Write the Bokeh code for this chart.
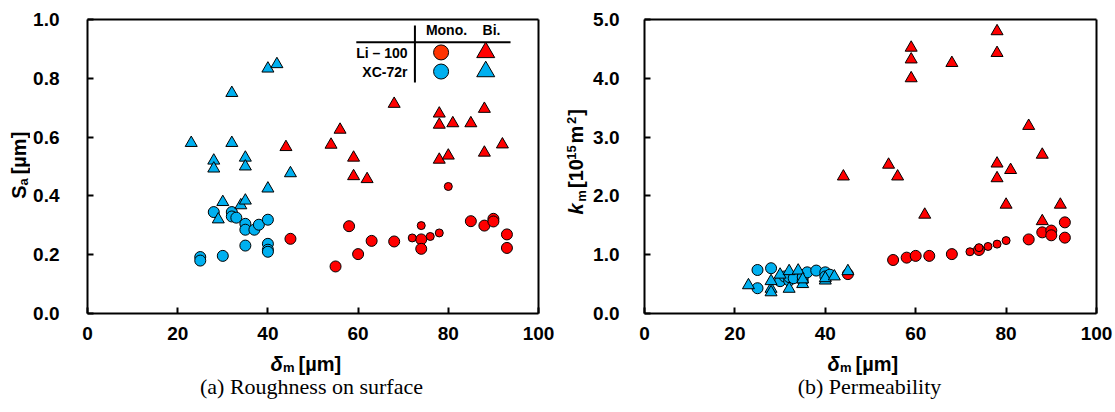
import math
from bokeh.plotting import figure
from bokeh.layouts import row, column
from bokeh.models import Label, FixedTicker, NumeralTickFormatter, Range1d, LinearAxis
from bokeh.embed import file_html
from bokeh.resources import INLINE

# ---------------- data ----------------
x_ticks = [0, 20, 40, 60, 80, 100]
sa_ticks = [0.0, 0.2, 0.4, 0.6, 0.8, 1.0]
km_ticks = [0.0, 1.0, 2.0, 3.0, 4.0, 5.0]
captions = ["(a) Roughness on surface", "(b) Permeability"]
legend_rows = ["Li \u2013 100", "XC-72r"]
legend_cols = ["Mono.", "Bi."]

# (a) roughness Sa [um] vs delta_m [um]
sa_li_mono_x = [45, 55, 58, 60, 63, 68, 74, 74, 85, 88, 90, 90, 93, 93]
sa_li_mono_y = [0.254, 0.160, 0.297, 0.202, 0.247, 0.245, 0.252, 0.220, 0.314, 0.299, 0.322, 0.313, 0.269, 0.223]
sa_li_mono_small_x = [72, 74, 76, 78, 80]
sa_li_mono_small_y = [0.257, 0.299, 0.262, 0.274, 0.432]
sa_li_bi_x = [44, 54, 56, 59, 59, 62, 68, 78, 78, 81, 85, 88, 78, 80, 88, 92]
sa_li_bi_y = [0.566, 0.574, 0.625, 0.530, 0.467, 0.457, 0.713, 0.680, 0.642, 0.647, 0.647, 0.696, 0.523, 0.537, 0.547, 0.575]
sa_xc_mono_x = [25, 25, 30, 28, 32, 32, 33, 35, 35, 37, 38, 40, 35, 40, 40, 40]
sa_xc_mono_y = [0.192, 0.180, 0.196, 0.345, 0.345, 0.330, 0.326, 0.305, 0.285, 0.285, 0.302, 0.319, 0.231, 0.237, 0.217, 0.210]
sa_xc_bi_x = [23, 32, 32, 28, 28, 35, 35, 40, 42, 40, 45, 30, 29, 34, 35]
sa_xc_bi_y = [0.580, 0.750, 0.580, 0.520, 0.493, 0.530, 0.500, 0.833, 0.848, 0.425, 0.477, 0.379, 0.320, 0.368, 0.384]

# (b) permeability km [1e-15 m2] vs delta_m [um]
km_li_mono_x = [45, 55, 58, 60, 63, 68, 74, 85, 88, 90, 90, 93, 93]
km_li_mono_y = [0.67, 0.91, 0.95, 0.98, 0.98, 1.01, 1.08, 1.26, 1.38, 1.41, 1.33, 1.29, 1.55]
km_li_mono_small_x = [72, 74, 76, 78, 80]
km_li_mono_small_y = [1.05, 1.12, 1.14, 1.18, 1.24]
km_li_bi_x = [44, 54, 56, 59, 59, 59, 62, 68, 78, 78, 78, 78, 80, 81, 85, 88, 88, 92]
km_li_bi_y = [2.33, 2.53, 2.33, 4.52, 4.32, 4.00, 1.68, 4.26, 4.80, 4.43, 2.55, 2.30, 1.85, 2.44, 3.19, 2.70, 1.57, 1.85]
km_xc_mono_x = [25, 25, 28, 30, 31, 32, 32, 33, 35, 35, 36, 38, 40, 40, 41]
km_xc_mono_y = [0.74, 0.43, 0.77, 0.55, 0.63, 0.56, 0.62, 0.60, 0.56, 0.62, 0.70, 0.73, 0.70, 0.63, 0.66]
km_xc_bi_x = [23, 28, 28, 28, 30, 32, 32, 34, 35, 35, 40, 40, 42, 45]
km_xc_bi_y = [0.48, 0.42, 0.36, 0.55, 0.66, 0.72, 0.42, 0.73, 0.50, 0.58, 0.56, 0.60, 0.63, 0.72]

# ---------------- style ----------------
RED = "#FF0000"
LEG_RED = "#FF3300"
BLUE = "#00B0F0"
FONT = "Liberation Sans"
SERIF = "Liberation Serif"
ANG = math.pi / 2
MAIN_H = 348
FRAME_TOP = 19
FRAME_H = 294
FRAME_BOTTOM = FRAME_TOP + FRAME_H          # pixel row of the x axis line
STRIP_H = 412 - MAIN_H
YSTRIP_W = 30


def lab(p, text, x, y, size=20, style="bold", angle=0.0, align="left",
        baseline="alphabetic", font=FONT):
    p.add_layout(Label(x=x, y=y, x_units="screen", y_units="screen", text=text,
                       text_font=font, text_font_size=f"{size}px",
                       text_font_style=style, angle=angle, text_align=align,
                       text_baseline=baseline, text_color="black"))


def vlab(p, text, x, row_px, size=20, style="bold"):
    # rotated piece, anchored at its centre; row_px = pixel row from the top
    lab(p, text, x, FRAME_BOTTOM - row_px, size=size, style=style, angle=ANG,
        align="center", baseline="middle")


def strip(width, height):
    s = figure(width=width, height=height, output_backend="svg", toolbar_location=None,
               x_range=Range1d(0, 1), y_range=Range1d(0, 1),
               x_axis_type=None, y_axis_type=None, min_border=0)
    s.grid.visible = False
    s.outline_line_color = None
    s.background_fill_color = "white"
    s.border_fill_color = "white"
    return s


def frame_axis(p, side):
    ax = LinearAxis(ticker=FixedTicker(ticks=[]), axis_line_width=2,
                    axis_line_color="black", major_tick_in=0, major_tick_out=0,
                    minor_tick_in=0, minor_tick_out=0,
                    major_label_text_font_size="0px")
    p.add_layout(ax, side)


def base(width, left, right, ymax, yticks, ystandoff):
    p = figure(width=width, height=MAIN_H, output_backend="svg", toolbar_location=None,
               x_range=Range1d(0, 100), y_range=Range1d(0, ymax),
               min_border_left=left, min_border_right=right,
               min_border_top=FRAME_TOP, min_border_bottom=MAIN_H - FRAME_BOTTOM)
    p.grid.visible = False
    p.outline_line_color = None
    p.background_fill_color = "white"
    p.border_fill_color = "white"
    for ax in (p.xaxis[0], p.yaxis[0]):
        ax.axis_line_width = 2
        ax.axis_line_color = "black"
        ax.major_tick_line_width = 2
        ax.major_tick_in = 6
        ax.major_tick_out = 0
        ax.minor_tick_in = 0
        ax.minor_tick_out = 0
        ax.major_label_text_font = FONT
        ax.major_label_text_font_style = "bold"
        ax.major_label_text_font_size = "19px"
        ax.major_label_text_color = "black"
    p.xaxis.ticker = FixedTicker(ticks=x_ticks)
    p.yaxis.ticker = FixedTicker(ticks=yticks)
    p.yaxis.formatter = NumeralTickFormatter(format="0.0")
    p.xaxis.major_label_standoff = 13
    p.yaxis.major_label_standoff = ystandoff
    frame_axis(p, "above")
    frame_axis(p, "right")
    return p


def bottom_strip(width, x0, caption, cx):
    s = strip(width, STRIP_H)
    lab(s, "\u03b4", x0, 49, style="bold italic")
    lab(s, "m", x0 + 12.5, 45, size=13)
    lab(s, "[\u00b5m]", x0 + 28, 49)
    lab(s, caption, cx, 26, size=22, style="normal", align="center",
        baseline="middle", font=SERIF)
    return s


def pts(p, x, y, marker, color, size):
    p.scatter(x=x, y=y, marker=marker, size=size, fill_color=color,
              line_color="black", line_width=1)


# ---------- (a) ----------
p1 = base(560 - YSTRIP_W, 55, 22, 1.0, sa_ticks, 28)
pts(p1, sa_li_mono_x, sa_li_mono_y, "circle", RED, 11)
pts(p1, sa_li_mono_small_x, sa_li_mono_small_y, "circle", RED, 8)
pts(p1, sa_li_bi_x, sa_li_bi_y, "triangle", RED, 12)
pts(p1, sa_xc_mono_x, sa_xc_mono_y, "circle", BLUE, 11)
pts(p1, sa_xc_bi_x, sa_xc_bi_y, "triangle", BLUE, 12)

# legend table (upper right of panel a)
p1.segment(x0=[72.6, 59.6], y0=[0.786, 0.923], x1=[72.6, 93.8], y1=[0.980, 0.923],
           line_color="black", line_width=2)
p1.scatter(x=[78.4, 78.4], y=[0.888, 0.823], marker="circle", size=15,
           fill_color=[LEG_RED, BLUE], line_color="black", line_width=1)
p1.scatter(x=[88.3, 88.3], y=[0.888, 0.823], marker="triangle", size=18,
           fill_color=[RED, BLUE], line_color="black", line_width=1)
lab(p1, legend_cols[0], 359, 284, size=14, align="center", baseline="middle")
lab(p1, legend_cols[1], 404, 284, size=14, align="center", baseline="middle")
lab(p1, legend_rows[0], 320, 261, size=14, align="right", baseline="middle")
lab(p1, legend_rows[1], 320, 242, size=14, align="right", baseline="middle")

ys1 = strip(YSTRIP_W, MAIN_H)
vlab(ys1, "S", 18, 191.5)
vlab(ys1, "a", 22.5, 181.5, size=13)
vlab(ys1, "[\u00b5m]", 18, 152.5)

xs1 = bottom_strip(560, 270, captions[0], 311)

# ---------- (b) ----------
p2 = base(555 - YSTRIP_W, 52, 19, 5.0, km_ticks, 25)
pts(p2, km_li_mono_x, km_li_mono_y, "circle", RED, 11)
pts(p2, km_li_mono_small_x, km_li_mono_small_y, "circle", RED, 8)
pts(p2, km_li_bi_x, km_li_bi_y, "triangle", RED, 12)
pts(p2, km_xc_mono_x, km_xc_mono_y, "circle", BLUE, 11)
pts(p2, km_xc_bi_x, km_xc_bi_y, "triangle", BLUE, 12)

ys2 = strip(YSTRIP_W, MAIN_H)
vlab(ys2, "k", 15, 208.5, style="bold italic")
vlab(ys2, "m", 20.5, 195.5, size=13)
vlab(ys2, "[10", 15, 173)
vlab(ys2, "15", 10.5, 152, size=13)
vlab(ys2, "m", 15, 134)
vlab(ys2, "2", 10.5, 120, size=13)
vlab(ys2, "]", 15, 112)

xs2 = bottom_strip(555, 267, captions[1], 309)

left = column(row(ys1, p1), xs1)
right = column(row(ys2, p2), xs2)
layout = row(left, right)
open("out.html", "w").write(file_html(layout, INLINE))
